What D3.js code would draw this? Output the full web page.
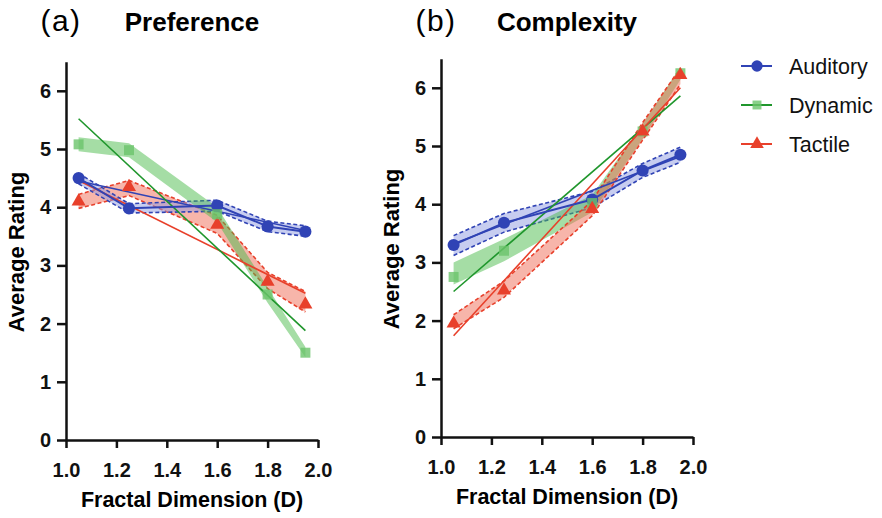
<!doctype html>
<html>
<head>
<meta charset="utf-8">
<style>
  body { margin: 0; background: #fff; }
  text { font-family: "Liberation Sans", Arial, sans-serif; }
  .tick text { font-size: 20px; font-weight: bold; fill: #111; }
  .domain, .tick line { stroke: #111; stroke-width: 2.5; }
</style>
<script src="https://cdn.jsdelivr.net/npm/d3@7"></script>
</head>
<body>
<svg width="882" height="518"></svg>
<script>

// fractal dimension of each stimulus
var xVals = [1.05, 1.25, 1.6, 1.8, 1.95];
var fitX = [1.05, 1.95];
var xTicks = [1.0, 1.2, 1.4, 1.6, 1.8, 2.0];
var yTicks = [0, 1, 2, 3, 4, 5, 6];
var seriesNames = ["Auditory", "Dynamic", "Tactile"];

// (a) Preference: mean, lower and upper band, fitted line ends
var prefAud    = [4.50, 3.98, 4.03, 3.67, 3.58];
var prefAudLo  = [4.40, 3.90, 3.93, 3.58, 3.50];
var prefAudHi  = [4.58, 4.06, 4.12, 3.76, 3.68];
var prefDyn    = [5.08, 4.98, 3.88, 2.50, 1.50];
var prefDynLo  = [4.96, 4.86, 3.74, 2.36, 1.42];
var prefDynHi  = [5.20, 5.10, 4.00, 2.62, 1.60];
var prefTac    = [4.10, 4.35, 3.70, 2.72, 2.33];
var prefTacLo  = [3.98, 4.20, 3.55, 2.60, 2.20];
var prefTacHi  = [4.22, 4.46, 3.86, 2.88, 2.55];
var prefFitAud = [4.45, 3.60];
var prefFitDyn = [5.52, 1.88];
var prefFitTac = [4.46, 2.52];

// (b) Complexity
var compAud    = [3.30, 3.68, 4.08, 4.58, 4.85];
var compAudLo  = [3.12, 3.52, 3.94, 4.46, 4.72];
var compAudHi  = [3.46, 3.84, 4.22, 4.70, 4.98];
var compDyn    = [2.75, 3.20, 4.02, 5.25, 6.25];
var compDynLo  = [2.62, 3.02, 3.86, 5.12, 6.14];
var compDynHi  = [3.00, 3.40, 4.16, 5.38, 6.36];
var compTac    = [1.95, 2.52, 3.92, 5.25, 6.22];
var compTacLo  = [1.86, 2.40, 3.80, 5.10, 6.06];
var compTacHi  = [2.10, 2.68, 4.06, 5.40, 6.34];
var compFitAud = [3.32, 4.82];
var compFitDyn = [2.50, 5.86];
var compFitTac = [1.74, 6.00];

var colors = { Auditory: "#3043b5", Dynamic: "#1f962c", Tactile: "#e8402b" };
var bandFill = { Auditory: "#8f9be1", Dynamic: "#4cbb4c", Tactile: "#ef6b55" };

var svg = d3.select("svg");

function drawPanel(opts) {
  var x = d3.scaleLinear().domain([1.0, 2.0]).range([opts.left, opts.left + 252]);
  var y = d3.scaleLinear().domain([0, 6.5]).range([opts.bottom, opts.bottom - 6.5 * 58.2]);
  var g = svg.append("g");

  g.append("g")
   .attr("transform", "translate(0," + opts.bottom + ")")
   .call(d3.axisBottom(x).tickValues(xTicks).tickFormat(d3.format(".1f")).tickSize(8).tickPadding(15).tickSizeOuter(0));
  g.append("g")
   .attr("transform", "translate(" + opts.left + ",0)")
   .call(d3.axisLeft(y).tickValues(yTicks).tickFormat(d3.format("d")).tickSize(9).tickPadding(6).tickSizeOuter(0));

  var band = d3.area()
    .x(function(d) { return x(d.x); })
    .y0(function(d) { return y(d.lo); })
    .y1(function(d) { return y(d.hi); });
  var line = d3.line().x(function(d) { return x(d.x); }).y(function(d) { return y(d.v); });

  var rows = opts.series.map(function(s) {
    return {
      name: s.name,
      fit: s.fit,
      pts: xVals.map(function(xv, i) { return { x: xv, v: s.mean[i], lo: s.lo[i], hi: s.hi[i] }; })
    };
  });

  // shaded bands
  rows.forEach(function(r) {
    g.append("path").datum(r.pts).attr("d", band)
     .attr("fill", bandFill[r.name]).attr("fill-opacity", 0.5);
    if (r.name != "Dynamic") {
      ["lo", "hi"].forEach(function(k) {
        g.append("path")
         .datum(r.pts)
         .attr("d", d3.line().x(function(d) { return x(d.x); }).y(function(d) { return y(d[k]); }))
         .attr("fill", "none").attr("stroke", colors[r.name])
         .attr("stroke-width", 1.6).attr("stroke-dasharray", "4,2.5");
      });
    }
  });

  // linear fits
  rows.forEach(function(r) {
    g.append("line")
     .attr("x1", x(fitX[0])).attr("y1", y(r.fit[0]))
     .attr("x2", x(fitX[1])).attr("y2", y(r.fit[1]))
     .attr("stroke", colors[r.name]).attr("stroke-width", 1.6);
  });

  // mean lines + markers
  rows.forEach(function(r) {
    if (r.name == "Auditory") {
      g.append("path").datum(r.pts).attr("d", line)
       .attr("fill", "none").attr("stroke", colors[r.name]).attr("stroke-width", 2);
    }
    var sym = r.name == "Auditory" ? d3.symbolCircle : (r.name == "Dynamic" ? d3.symbolSquare : d3.symbolTriangle);
    var size = r.name == "Auditory" ? 115 : (r.name == "Dynamic" ? 100 : 85);
    g.selectAll(null).data(r.pts).enter().append("path")
     .attr("transform", function(d) { return "translate(" + x(d.x) + "," + y(d.v) + ")"; })
     .attr("d", d3.symbol().type(sym).size(size))
     .attr("fill", r.name == "Dynamic" ? "#6cc46c" : colors[r.name])
     .attr("fill-opacity", r.name == "Dynamic" ? 0.8 : 1);
  });

  // labels
  g.append("text").attr("x", opts.left - 5).attr("y", 31)
   .attr("font-size", "30px").attr("letter-spacing", "1.5px").attr("text-anchor", "middle").text(opts.tag);
  g.append("text").attr("x", opts.titleX).attr("y", 31)
   .attr("font-size", "26px").attr("font-weight", "bold").attr("text-anchor", "middle").text(opts.title);
  g.append("text")
   .attr("transform", "translate(" + (opts.left - 42) + "," + (opts.bottom - 188) + ") rotate(-90)")
   .attr("font-size", "22px").attr("font-weight", "bold").attr("text-anchor", "middle").text("Average Rating");
  g.append("text").attr("x", opts.left + 126).attr("y", opts.bottom + 67)
   .attr("font-size", "21.5px").attr("font-weight", "bold").attr("text-anchor", "middle").text("Fractal Dimension (D)");
}

drawPanel({
  left: 66, bottom: 440, tag: "(a)", title: "Preference", titleX: 192,
  series: [
    { name: "Tactile", mean: prefTac, lo: prefTacLo, hi: prefTacHi, fit: prefFitTac },
    { name: "Auditory", mean: prefAud, lo: prefAudLo, hi: prefAudHi, fit: prefFitAud },
    { name: "Dynamic", mean: prefDyn, lo: prefDynLo, hi: prefDynHi, fit: prefFitDyn }
  ]
});

drawPanel({
  left: 441, bottom: 437, tag: "(b)", title: "Complexity", titleX: 567,
  series: [
    { name: "Auditory", mean: compAud, lo: compAudLo, hi: compAudHi, fit: compFitAud },
    { name: "Dynamic", mean: compDyn, lo: compDynLo, hi: compDynHi, fit: compFitDyn },
    { name: "Tactile", mean: compTac, lo: compTacLo, hi: compTacHi, fit: compFitTac }
  ]
});

// legend
var legend = svg.append("g").attr("transform", "translate(741,66)");
seriesNames.forEach(function(name, i) {
  var row = legend.append("g").attr("transform", "translate(0," + (i * 39) + ")");
  row.append("line").attr("x1", 0).attr("x2", 31).attr("stroke", colors[name]).attr("stroke-width", 2);
  var sym = name == "Auditory" ? d3.symbolCircle : (name == "Dynamic" ? d3.symbolSquare : d3.symbolTriangle);
  row.append("path").attr("transform", "translate(16,0)")
     .attr("d", d3.symbol().type(sym).size(name == "Auditory" ? 100 : 80))
     .attr("fill", name == "Dynamic" ? "#6cc46c" : colors[name]).attr("fill-opacity", name == "Dynamic" ? 0.8 : 1);
  row.append("text").attr("x", 48).attr("y", 7.5).attr("font-size", "21.5px").attr("fill", "#111").text(name);
});

</script>
</body>
</html>
